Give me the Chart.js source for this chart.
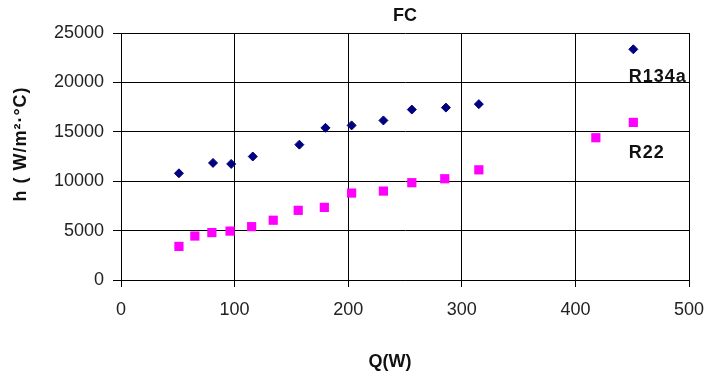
<!DOCTYPE html>
<html>
<head>
<meta charset="utf-8">
<script src="https://cdn.jsdelivr.net/npm/chart.js@4/dist/chart.umd.min.js"></script>
<style>
  html, body { margin: 0; padding: 0; background: #fff; }
  #wrap { width: 709px; height: 376px; }
</style>
</head>
<body>
<div id="wrap"><canvas id="myChart" width="709" height="376"></canvas></div>
<script>
// values
var r134aQ = [51, 81, 97, 116, 157, 180, 203, 231, 256, 286, 315, 451];
var r134aH = [10800, 11850, 11750, 12500, 13700, 15400, 15650, 16150, 17250, 17450, 17800, 23350];
var r22Q = [51, 65, 80, 96, 115, 134, 156, 179, 203, 231, 256, 285, 315, 418, 451];
var r22H = [3400, 4450, 4800, 4950, 5400, 6050, 7050, 7350, 8800, 9000, 9850, 10250, 11150, 14400, 15950];
var xTicks = [0, 100, 200, 300, 400, 500];
var yTicks = [0, 5000, 10000, 15000, 20000, 25000];
var seriesNames = ['R134a', 'R22'];
// where the series names sit, in data units (left edge, baseline)
var nameAnchors = [[447, 20000], [447, 12350]];

function toPoints(xs, ys) {
    return xs.map(function (x, i) { return { x: x, y: ys[i] }; });
}

var FONT = 'Arial, "Liberation Sans", sans-serif';

// series names and axis titles, drawn on top of the chart
const textPlugin = {
    id: 'texts',
    afterDraw: function (chart) {
        const ctx = chart.ctx;
        const xs = chart.scales.x, ys = chart.scales.y;
        ctx.save();
        ctx.fillStyle = '#111';
        ctx.font = 'bold 18px ' + FONT;
        ctx.textAlign = 'left';
        ctx.textBaseline = 'alphabetic';
        ctx.letterSpacing = '1px';
        seriesNames.forEach(function (name, i) {
            ctx.fillText(name, xs.getPixelForValue(nameAnchors[i][0]), ys.getPixelForValue(nameAnchors[i][1]));
        });
        ctx.letterSpacing = '0px';

        // x axis title
        ctx.textAlign = 'center';
        ctx.textBaseline = 'middle';
        ctx.fillText('Q(W)', 390, 362);

        // y axis title
        ctx.translate(21, 144);
        ctx.rotate(-Math.PI / 2);
        ctx.letterSpacing = '1px';
        ctx.fillText('h ( W/m\u00b2\u00b7\u00b0C)', 0, 0);
        ctx.restore();
    }
};

const ctx = document.getElementById('myChart').getContext('2d');
const myChart = new Chart(ctx, {
    type: 'scatter',
    data: {
        datasets: [{
            label: seriesNames[0],
            data: toPoints(r134aQ, r134aH),
            pointStyle: 'rectRot',
            pointRadius: 4.5,
            backgroundColor: '#000080',
            borderColor: '#000080',
            borderWidth: 1
        },
            {
                label: seriesNames[1],
                data: toPoints(r22Q, r22H),
                pointStyle: 'rect',
                pointRadius: 6.5,
                backgroundColor: '#ff00ff',
                borderColor: '#ff00ff',
                borderWidth: 0
            }]
    },
    options: {
        responsive: false,
        devicePixelRatio: 1,
        animation: false,
        layout: {
            padding: { left: 0, right: 20, top: 0, bottom: 0 }
        },
        plugins: {
            legend: { display: false },
            tooltip: { enabled: false },
            title: {
                display: true,
                text: 'FC',
                fullSize: false,
                color: '#111',
                font: { family: FONT, size: 18, weight: 'bold' },
                padding: { top: 5, bottom: 6.4 }
            }
        },
        scales: {
            x: {
                type: 'linear',
                min: 0,
                max: 500,
                afterBuildTicks: function (scale) {
                    scale.ticks = xTicks.map(function (v) { return { value: v }; });
                },
                afterFit: function (scale) {
                    scale.height = 96;
                    scale.paddingLeft = 0;
                    scale.paddingRight = 0;
                },
                grid: { color: '#000', lineWidth: 1, tickLength: 7, tickColor: '#000' },
                border: { color: '#000', width: 1 },
                ticks: {
                    color: '#222',
                    padding: 12,
                    maxRotation: 0,
                    font: { family: FONT, size: 18 }
                }
            },
            y: {
                type: 'linear',
                min: 0,
                max: 25000,
                afterBuildTicks: function (scale) {
                    scale.ticks = yTicks.map(function (v) { return { value: v }; });
                },
                afterFit: function (scale) { scale.width = 121; },
                grid: { color: '#000', lineWidth: 1, tickLength: 8, tickColor: '#000' },
                border: { color: '#000', width: 1 },
                ticks: {
                    color: '#222',
                    padding: 9,
                    callback: function (v) { return String(v); },
                    font: { family: FONT, size: 18 }
                }
            }
        }
    },
    plugins: [textPlugin]
});
</script>
</body>
</html>
